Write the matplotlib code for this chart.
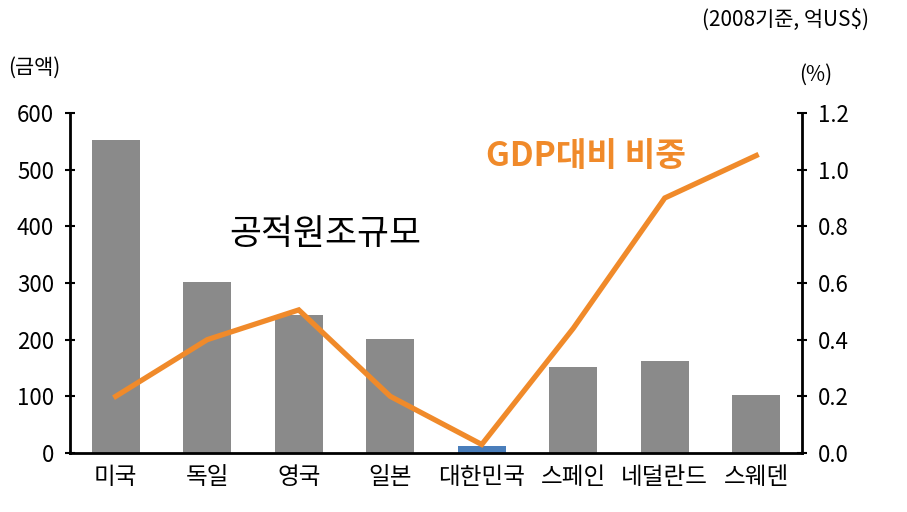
import matplotlib.pyplot as plt
import numpy as np

plt.rcParams['font.family'] = ['Noto Sans CJK KR', 'DejaVu Sans']

# data
countries = ["미국", "독일", "영국", "일본", "대한민국", "스페인", "네덜란드", "스웨덴"]
oda_amount = [552, 302, 243, 201, 12, 152, 162, 102]          # 억US$
gdp_share = [0.20, 0.40, 0.505, 0.20, 0.03, 0.44, 0.90, 1.05]  # %
bar_colors = ["#8a8a8a"] * 4 + ["#4a7ebb"] + ["#8a8a8a"] * 3

fig = plt.figure(figsize=(9.07, 5.12), dpi=100)
ax = fig.add_axes([70 / 907, 1 - 453 / 512, (802 - 70) / 907, (453 - 113) / 512])
x = np.arange(len(countries))

ax.bar(x, oda_amount, width=0.52, color=bar_colors, zorder=2)
ax.set_xlim(-0.5, len(countries) - 0.5)
ax.set_ylim(0, 600)
ax.set_yticks(range(0, 601, 100))
ax.set_xticks(x)
ax.set_xticklabels(countries, fontsize=17)
ax.tick_params(axis='x', length=0, pad=9)
ax.tick_params(axis='y', direction='inout', length=7, width=1.5, labelsize=16, pad=8)
for s in ["top", "right"]:
    ax.spines[s].set_visible(False)
for s in ["left", "bottom"]:
    ax.spines[s].set_linewidth(2)

ax2 = ax.twinx()
ax2.plot(x, gdp_share, color="#f08a2a", linewidth=3.8, solid_joinstyle='miter', zorder=3)
ax2.set_ylim(0, 1.2)
ax2.set_yticks(np.arange(0, 1.21, 0.2))
ax2.set_yticklabels([f"{v:.1f}" for v in np.arange(0, 1.21, 0.2)])
ax2.tick_params(axis='y', direction='inout', length=7, width=1.5, labelsize=16, pad=8)
for s in ["top", "left", "bottom"]:
    ax2.spines[s].set_visible(False)
ax2.spines["right"].set_linewidth(2)

ax.text(2.29, 385, "공적원조규모", fontsize=25, ha='center', va='center', color='black')
ax2.text(5.14, 1.045, "GDP대비 비중", fontsize=24, fontweight='bold', ha='center', va='center',
         color="#f08a2a")

fig.text(8 / 907, 1 - 68 / 512, "(금액)", fontsize=15, ha='left', va='center')
fig.text(816 / 907, 1 - 75 / 512, "(%)", fontsize=15, ha='center', va='center')
fig.text(869 / 907, 1 - 20 / 512, "(2008기준, 억US$)", fontsize=15, ha='right', va='center')

fig.savefig("out.png", dpi=100)
